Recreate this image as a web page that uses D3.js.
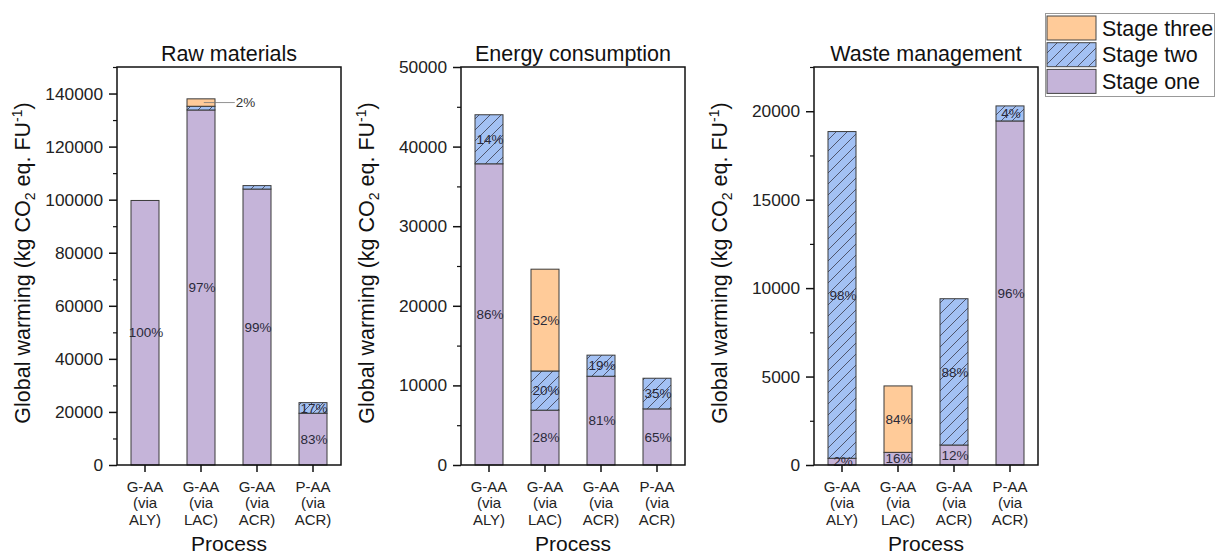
<!DOCTYPE html>
<html>
<head>
<meta charset="utf-8">
<script src="https://cdn.jsdelivr.net/npm/d3@7"></script>
<style>
  html, body { margin: 0; padding: 0; background: #fff; }
  svg { display: block; font-family: "Liberation Sans", Arial, sans-serif; }
</style>
</head>
<body>
<svg id="chart" width="1215" height="556"></svg>
<script>
// Process routes (x categories), one label line per entry
const categories = ["G-AA (via ALY)", "G-AA (via LAC)", "G-AA (via ACR)", "P-AA (via ACR)"];
const categoryLines = [["G-AA", "(via", "ALY)"], ["G-AA", "(via", "LAC)"], ["G-AA", "(via", "ACR)"], ["P-AA", "(via", "ACR)"]];

// Raw materials (kg CO2 eq. per FU)
const rawStageOne   = [99700, 133800, 104000, 19500];
const rawStageTwo   = [0, 1400, 1300, 4000];
const rawStageThree = [0, 2800, 0, 0];
const rawLabelsOne   = ["100%", "97%", "99%", "83%"];
const rawLabelsTwo   = ["", "", "", "17%"];
const rawLabelsThree = ["", "2%", "", ""];

// Energy consumption
const energyStageOne   = [37840, 6890, 11150, 7050];
const energyStageTwo   = [6160, 4920, 2650, 3850];
const energyStageThree = [0, 12790, 0, 0];
const energyLabelsOne   = ["86%", "28%", "81%", "65%"];
const energyLabelsTwo   = ["14%", "20%", "19%", "35%"];
const energyLabelsThree = ["", "52%", "", ""];

// Waste management
const wasteStageOne   = [380, 715, 1130, 19450];
const wasteStageTwo   = [18470, 0, 8270, 850];
const wasteStageThree = [0, 3755, 0, 0];
const wasteLabelsOne   = ["2%", "16%", "12%", "96%"];
const wasteLabelsTwo   = ["98%", "", "88%", "4%"];
const wasteLabelsThree = ["", "84%", "", ""];

// Axis settings per panel
const panelTitles = ["Raw materials", "Energy consumption", "Waste management"];
const yMaxima = [150000, 50000, 22500];
const yMajorTicks = [
  [0, 20000, 40000, 60000, 80000, 100000, 120000, 140000],
  [0, 10000, 20000, 30000, 40000, 50000],
  [0, 5000, 10000, 15000, 20000]
];
const yMinorTicks = [
  [10000, 30000, 50000, 70000, 90000, 110000, 130000, 150000],
  [5000, 15000, 25000, 35000, 45000],
  [2500, 7500, 12500, 17500, 22500]
];
const stageNames = ["Stage three", "Stage two", "Stage one"];

const panels = [
  { one: rawStageOne, two: rawStageTwo, three: rawStageThree, l1: rawLabelsOne, l2: rawLabelsTwo, l3: rawLabelsThree },
  { one: energyStageOne, two: energyStageTwo, three: energyStageThree, l1: energyLabelsOne, l2: energyLabelsTwo, l3: energyLabelsThree },
  { one: wasteStageOne, two: wasteStageTwo, three: wasteStageThree, l1: wasteLabelsOne, l2: wasteLabelsTwo, l3: wasteLabelsThree }
];

const colors = { one: "#c5b4d9", two: "#a3c1f4", three: "#ffcb99" };
const frameLefts = [117, 461, 814];
const frameWidth = 224, frameTop = 67, frameBottom = 465;

const svg = d3.select("#chart");
const defs = svg.append("defs");
const hatch = defs.append("pattern")
  .attr("id", "hatch").attr("patternUnits", "userSpaceOnUse")
  .attr("width", 11).attr("height", 11);
hatch.append("rect").attr("width", 11).attr("height", 11).attr("fill", colors.two);
hatch.append("path")
  .attr("d", "M0,11 L11,0 M-2.75,2.75 L2.75,-2.75 M8.25,13.75 L13.75,8.25")
  .attr("stroke", "#3a3a4a").attr("stroke-width", 0.8);

const fills = { one: colors.one, two: "url(#hatch)", three: colors.three };

panels.forEach((p, i) => {
  const x0 = frameLefts[i];
  const g = svg.append("g");
  const x = d3.scaleBand().domain(categories).range([x0, x0 + frameWidth])
    .paddingInner(0.5).paddingOuter(0.25);
  const y = d3.scaleLinear().domain([0, yMaxima[i]]).range([frameBottom, frameTop]);

  // stacked segments
  const rows = categories.map((c, k) => ({
    cat: c,
    segs: [
      { key: "one", v0: 0, v1: p.one[k], label: p.l1[k] },
      { key: "two", v0: p.one[k], v1: p.one[k] + p.two[k], label: p.l2[k] },
      { key: "three", v0: p.one[k] + p.two[k], v1: p.one[k] + p.two[k] + p.three[k], label: p.l3[k] }
    ].filter(s => s.v1 > s.v0)
  }));

  rows.forEach(r => {
    r.segs.forEach(s => {
      g.append("rect")
        .attr("x", x(r.cat)).attr("width", x.bandwidth())
        .attr("y", y(s.v1)).attr("height", y(s.v0) - y(s.v1))
        .attr("fill", fills[s.key]).attr("stroke", "#3a3a3a").attr("stroke-width", 1);
    });
  });

  // percentage labels
  rows.forEach(r => {
    r.segs.forEach(s => {
      if (!s.label) return;
      const cy = y((s.v0 + s.v1) / 2);
      const small = (y(s.v0) - y(s.v1)) < 10 && i === 0;
      if (small) {
        const xr = x(r.cat) + x.bandwidth() * 0.6;
        g.append("line").attr("x1", xr).attr("x2", xr + 31)
          .attr("y1", cy).attr("y2", cy).attr("stroke", "#777").attr("stroke-width", 0.8);
        g.append("text").attr("x", xr + 32).attr("y", cy).attr("dy", "0.35em")
          .attr("font-size", 13.5).attr("fill", "#333").text(s.label);
      } else {
        g.append("text").attr("x", x(r.cat) + x.bandwidth() / 2 + 1).attr("y", cy).attr("dy", "0.35em")
          .attr("text-anchor", "middle").attr("font-size", 13.5).attr("fill", "#2a2a3a").text(s.label);
      }
    });
  });

  // frame
  g.append("rect").attr("x", x0).attr("y", frameTop).attr("width", frameWidth)
    .attr("height", frameBottom - frameTop).attr("fill", "none")
    .attr("stroke", "#111").attr("stroke-width", 1.5);

  // y axis: major and minor ticks
  const yAxis = g.append("g").attr("transform", `translate(${x0},0)`)
    .call(d3.axisLeft(y).tickValues(yMajorTicks[i]).tickSize(8).tickPadding(6).tickFormat(d3.format("d")));
  yAxis.select(".domain").remove();
  yAxis.selectAll(".tick line").attr("stroke", "#111").attr("stroke-width", 1.5);
  yAxis.selectAll(".tick text").attr("font-size", 17.3).attr("fill", "#222")
    .attr("font-family", "Liberation Sans, Arial, sans-serif");
  const yMinor = g.append("g").attr("transform", `translate(${x0},0)`)
    .call(d3.axisLeft(y).tickValues(yMinorTicks[i]).tickSize(4).tickFormat(""));
  yMinor.select(".domain").remove();
  yMinor.selectAll(".tick line").attr("stroke", "#111").attr("stroke-width", 1.2);

  // x axis ticks and multi-line labels
  const xAxis = g.append("g").attr("transform", `translate(0,${frameBottom})`)
    .call(d3.axisBottom(x).tickSize(7).tickFormat(""));
  xAxis.select(".domain").remove();
  xAxis.selectAll(".tick line").attr("stroke", "#111").attr("stroke-width", 1.5);
  categories.forEach((c, k) => {
    const t = g.append("text").attr("text-anchor", "middle").attr("font-size", 15).attr("fill", "#222");
    categoryLines[k].forEach((line, j) => {
      t.append("tspan").attr("x", x(c) + x.bandwidth() / 2).attr("y", 491.5 + j * 16.7).text(line);
    });
  });

  // titles
  g.append("text").attr("x", x0 + frameWidth / 2).attr("y", 60.5).attr("text-anchor", "middle")
    .attr("font-size", 21.5).attr("fill", "#111").text(panelTitles[i]);
  g.append("text").attr("x", x0 + frameWidth / 2).attr("y", 551).attr("text-anchor", "middle")
    .attr("font-size", 21).attr("fill", "#111").text("Process");

  const ty = g.append("text").attr("text-anchor", "middle").attr("font-size", 21.5).attr("fill", "#111")
    .attr("transform", `translate(${x0 - 87},263) rotate(-90)`);
  ty.append("tspan").text("Global warming (kg CO");
  ty.append("tspan").attr("font-size", 14).attr("dy", 5).text("2");
  ty.append("tspan").attr("dy", -5).text(" eq. FU");
  ty.append("tspan").attr("font-size", 14).attr("dy", -8).text("-1");
  ty.append("tspan").attr("dy", 8).text(")");
});

// legend
const lg = svg.append("g");
lg.append("rect").attr("x", 1045.5).attr("y", 13.5).attr("width", 169).attr("height", 83)
  .attr("fill", "#fff").attr("stroke", "#999").attr("stroke-width", 1);
const legendFill = ["three", "two", "one"];
stageNames.forEach((name, k) => {
  const yy = 16 + k * 26.7;
  lg.append("rect").attr("x", 1047).attr("y", yy).attr("width", 49).attr("height", 24)
    .attr("fill", fills[legendFill[k]]).attr("stroke", "#444").attr("stroke-width", 1);
  lg.append("text").attr("x", 1102).attr("y", yy + 12).attr("dy", "0.36em")
    .attr("font-size", 21.5).attr("fill", "#111").text(name);
});
</script>
</body>
</html>
